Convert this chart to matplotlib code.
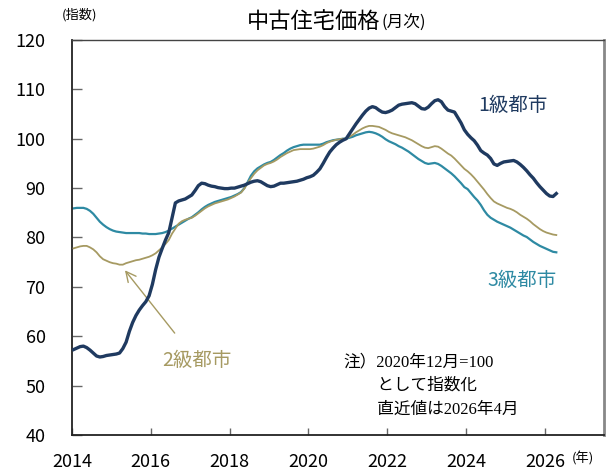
import numpy as np
import matplotlib.pyplot as plt

plt.rcParams['font.family'] = ['Noto Sans CJK JP', 'DejaVu Sans']

# 月次指数 (2020年12月=100), 2014年1月〜2026年4月
tier1 = [
    57.3, 57.6, 57.9, 58.0, 57.7, 57.2, 56.6, 56.0, 55.8, 55.9, 56.1, 56.2,
    56.3, 56.4, 56.6, 57.5, 58.8, 61.0, 62.8, 64.2, 65.3, 66.2, 67.0, 68.2,
    70.5, 73.5, 76.0, 77.8, 79.5, 81.0, 84.0, 87.0, 87.4, 87.6, 87.8, 88.2,
    88.6, 89.5, 90.5, 91.0, 90.9, 90.6, 90.4, 90.3, 90.1, 90.0, 89.9, 89.9,
    90.0, 90.0, 90.2, 90.4, 90.6, 90.9, 91.2, 91.4, 91.5, 91.3, 90.9, 90.5,
    90.3, 90.4, 90.7, 91.0, 91.0, 91.1, 91.2, 91.3, 91.4, 91.6, 91.8, 92.1,
    92.3, 92.6, 93.2, 93.9, 95.0, 96.2, 97.3, 98.1, 98.8, 99.3, 99.7, 100.0,
    101.0, 102.0, 103.0, 103.9, 104.8, 105.6, 106.2, 106.5, 106.3, 105.8, 105.4, 105.3,
    105.5, 105.8, 106.3, 106.8, 107.0, 107.1, 107.2, 107.3, 107.1, 106.6, 106.1, 106.0,
    106.4, 107.1, 107.7, 107.9, 107.5, 106.5, 105.8, 105.6, 105.4, 104.3, 103.2, 101.8,
    100.9, 100.2, 99.6, 98.7, 97.6, 97.1, 96.7, 96.0, 94.9, 94.6, 95.0, 95.3,
    95.4, 95.5, 95.6, 95.3, 94.8, 94.2, 93.5, 92.7, 92.0, 91.1, 90.3, 89.6,
    88.9, 88.4, 88.3, 88.9,
]
tier2 = [
    77.8, 78.0, 78.2, 78.3, 78.3, 78.0, 77.6, 77.0, 76.2, 75.6, 75.3, 75.0,
    74.8, 74.7, 74.5, 74.5, 74.8, 75.0, 75.2, 75.4, 75.5, 75.7, 75.9, 76.1,
    76.4, 76.8, 77.4, 78.0, 78.7, 79.5, 80.8, 81.8, 82.8, 83.3, 83.6, 83.8,
    84.0, 84.4, 84.9, 85.4, 85.9, 86.3, 86.6, 86.9, 87.1, 87.3, 87.5, 87.7,
    88.0, 88.3, 88.7, 89.1, 89.9, 91.0, 92.0, 92.9, 93.6, 94.1, 94.6, 94.9,
    95.1, 95.4, 95.8, 96.3, 96.7, 97.1, 97.4, 97.7, 97.8, 97.9, 97.9, 97.9,
    97.9, 98.0, 98.2, 98.4, 98.7, 99.1, 99.4, 99.6, 99.8, 99.9, 100.0, 100.0,
    100.4, 100.8, 101.3, 101.7, 102.1, 102.4, 102.6, 102.6, 102.5, 102.4, 102.1, 101.8,
    101.4, 101.1, 100.9, 100.7, 100.5, 100.3, 100.0, 99.7, 99.3, 98.9, 98.5, 98.2,
    98.1, 98.3, 98.5, 98.4, 98.0, 97.5, 97.0, 96.6, 96.0, 95.3, 94.6, 93.9,
    93.4, 92.8, 92.1, 91.3, 90.5, 89.7, 88.8, 88.0, 87.3, 86.9, 86.6, 86.3,
    86.0, 85.8, 85.5, 85.1, 84.6, 84.2, 83.8, 83.3, 82.7, 82.2, 81.7, 81.3,
    81.0, 80.8, 80.6, 80.5,
]
tier3 = [
    85.9, 86.0, 86.0, 86.0, 85.8, 85.4, 84.8, 84.0, 83.2, 82.6, 82.1, 81.7,
    81.4, 81.2, 81.1, 81.0, 80.9, 80.9, 80.9, 80.9, 80.9, 80.8, 80.8, 80.7,
    80.7, 80.7, 80.8, 80.9, 81.1, 81.4, 81.8, 82.2, 82.6, 83.0, 83.4, 83.8,
    84.1, 84.6, 85.1, 85.7, 86.2, 86.6, 86.9, 87.2, 87.4, 87.6, 87.8, 88.0,
    88.2, 88.5, 88.8, 89.2, 90.0, 91.2, 92.5, 93.4, 94.0, 94.4, 94.8, 95.1,
    95.3, 95.7, 96.2, 96.7, 97.1, 97.6, 98.0, 98.3, 98.5, 98.7, 98.8, 98.8,
    98.8, 98.8, 98.8, 98.8, 99.0, 99.3, 99.5, 99.7, 99.8, 99.9, 100.0, 100.0,
    100.2, 100.4, 100.7, 100.9, 101.1, 101.3, 101.4, 101.3, 101.1, 100.8, 100.4, 99.9,
    99.5, 99.2, 98.9, 98.5, 98.2, 97.8, 97.4, 96.9, 96.4, 95.9, 95.5, 95.1,
    94.9, 95.0, 95.1, 94.9, 94.5, 94.0, 93.5, 93.0, 92.4, 91.7, 91.0, 90.2,
    89.8, 89.0, 88.2, 87.5, 86.6, 85.5, 84.6, 84.0, 83.6, 83.2, 82.9, 82.6,
    82.3, 82.0, 81.6, 81.2, 80.8, 80.4, 80.1, 79.6, 79.1, 78.7, 78.3, 78.0,
    77.7, 77.4, 77.1, 77.0,
]
years = [2014, 2016, 2018, 2020, 2022, 2024, 2026]

c1 = '#1f3a60'
c2 = '#a69a62'
c3 = '#2e8aa3'

x = 2014 + np.arange(len(tier1)) / 12 + 0.04

fig = plt.figure(figsize=(6.08, 4.75), dpi=100)
ax = fig.add_axes([0.1184, 0.0842, 0.875, 0.8316])

ax.plot(x, tier3, color=c3, lw=1.6, zorder=2)
ax.plot(x, tier2, color=c2, lw=1.3, zorder=3)
ax.plot(x, tier1, color=c1, lw=2.4, zorder=4)

ax.set_xlim(2014, 2027.5)
ax.set_ylim(40, 120)
ax.set_yticks(range(40, 121, 10))
ax.set_xticks(years)
ax.set_xticklabels([str(y) for y in years])
ax.tick_params(axis='y', direction='in', length=7, width=1, color='#666666',
               labelsize=13, pad=19)
ax.tick_params(axis='x', direction='in', length=5, width=1, color='#666666',
               labelsize=13, pad=13)

for s in ['left', 'bottom']:
    ax.spines[s].set_color('#222222')
    ax.spines[s].set_linewidth(1.3)
ax.spines['top'].set_color('#444444')
ax.spines['top'].set_linewidth(1.0)
ax.spines['right'].set_color('#888888')
ax.spines['right'].set_linewidth(2.0)

fig.text(0.625, 0.955, '中古住宅価格', ha='right', va='center', fontsize=16)
fig.text(0.627, 0.952, '(月次)', ha='left', va='center', fontsize=12)
fig.text(0.102, 0.968, '(指数)', ha='left', va='center', fontsize=9.5)
fig.text(0.94, 0.035, '(年)', ha='left', va='center', fontsize=9.5)

ax.text(2024.3, 106.7, '1級都市', color=c1, fontsize=14, ha='left', va='center')
ax.text(2024.55, 71.2, '3級都市', color=c3, fontsize=14, ha='left', va='center')
ax.text(2016.3, 55.0, '2級都市', color=c2, fontsize=14, ha='left', va='center')
ax.annotate('', xy=(2015.3, 73.8), xytext=(2016.65, 60.2),
            arrowprops=dict(arrowstyle='->', color=c2, lw=1.0,
                            mutation_scale=18))

note = ['注）2020年12月=100', '　　として指数化', '　　直近値は2026年4月']
for i, t in enumerate(note):
    ax.text(2020.9, 54.8 - i * 4.8, t, fontsize=12, ha='left', va='center',
            family=['Liberation Serif', 'Noto Sans CJK JP'])

fig.savefig('out.png', dpi=100)
